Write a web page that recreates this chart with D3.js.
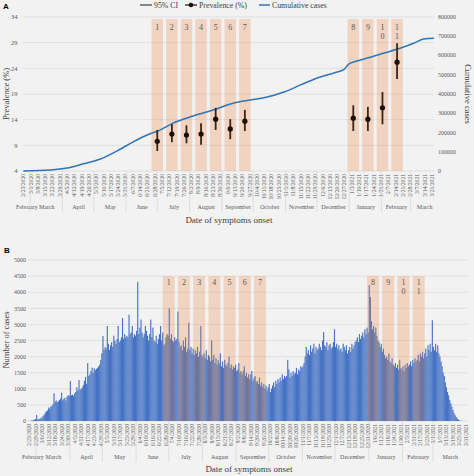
<!DOCTYPE html>
<html><head><meta charset="utf-8">
<script src="https://cdn.jsdelivr.net/npm/d3@7"></script>
<style>
html,body{margin:0;padding:0;background:#f2f2f2;}
svg{display:block;font-family:"Liberation Serif",serif;}
</style></head><body>
<svg id="c" width="474" height="476"></svg>
<script>
// ---------------- DATA ----------------
const waveLabels = ["1","2","3","4","5","6","7","8","9","10","11"];
const waveStart = ["2020-06-25","2020-07-09","2020-07-23","2020-08-06","2020-08-20","2020-09-03","2020-09-17","2020-12-30","2021-01-13","2021-01-27","2021-02-10"];
const waveEnd   = ["2020-07-06","2020-07-20","2020-08-03","2020-08-17","2020-08-31","2020-09-14","2020-09-28","2021-01-10","2021-01-24","2021-02-07","2021-02-21"];
const prevalence = [9.8, 11.2, 11.0, 11.2, 14.1, 12.2, 13.7, 14.3, 14.1, 16.3, 25.2];
const ciLow  = [7.9, 9.6, 9.4, 9.1, 12.0, 10.2, 11.8, 11.8, 11.8, 13.1, 21.9];
const ciHigh = [12.0, 13.1, 12.9, 13.3, 16.3, 14.1, 15.9, 16.8, 16.5, 19.4, 28.9];

const cumDates = ["2020-02-23","2020-03-20","2020-04-05","2020-04-20","2020-05-07","2020-05-23","2020-06-07","2020-06-23","2020-07-03","2020-07-16","2020-08-04","2020-08-23","2020-09-12","2020-09-28","2020-10-14","2020-10-30","2020-11-15","2020-12-01","2020-12-17","2020-12-27","2020-12-31","2021-01-08","2021-01-18","2021-02-03","2021-02-19","2021-03-04","2021-03-13","2021-03-23"];
const cumValues = [0,5000,15000,36000,62000,104000,150000,192000,212000,249000,285000,316000,352000,368000,383000,409000,446000,482000,508000,528000,554000,570000,585000,611000,637000,663000,684000,688000];

const prevTicks = [4,9,14,19,24,29,34];
const cumTicks = [0,100000,200000,300000,400000,500000,600000,700000,800000];
const caseTicks = [0,500,1000,1500,2000,2500,3000,3500,4000,4500,5000];
const monthNames = ["February","March","April","May","June","July","August","September","October","November","December","January","February","March"];
const monthStarts = ["2020-02-01","2020-03-01","2020-04-01","2020-05-01","2020-06-01","2020-07-01","2020-08-01","2020-09-01","2020-10-01","2020-11-01","2020-12-01","2021-01-01","2021-02-01","2021-03-01"];

// daily cases from 2020-02-23, one row per week (Sun..Sat)
const dailyCases = [
 2,5,10,15,30,40,60,
 185,40,60,70,90,120,160,
 200,260,300,330,420,380,450,
 470,520,860,600,640,580,610,
 650,700,880,640,690,720,640,
 760,800,780,1240,800,820,780,
 860,900,1050,950,1270,980,1000,
 1050,1120,1250,1370,1150,1800,1400,
 1450,1550,1660,1500,1640,1580,1620,
 1650,1700,1750,1900,2100,2640,2200,
 2300,2250,2950,2400,2200,2350,2450,
 2300,2650,2500,2400,2550,2950,2450,
 2500,2600,3200,2550,2700,2600,2650,
 2600,3300,2700,2750,2950,2600,2700,
 2650,2800,4320,2700,2900,3150,2750,
 2600,2700,2950,2800,2650,2500,2700,
 3150,2600,2900,2500,2450,2650,2400,
 2550,2700,2950,2500,2750,2350,2400,
 2600,2700,2650,3500,2550,2700,2500,
 2450,2600,2500,2550,3400,2450,2300,
 2350,2200,2500,2300,2600,2150,2250,
 3050,2200,2300,2100,2250,2050,2200,
 2100,2300,2000,2150,2950,2050,2000,
 2100,1950,2200,1900,2050,2000,1850,
 2500,1900,2050,1800,1950,1750,1900,
 1800,2100,1700,1850,1650,1900,1750,
 1700,1800,2000,1650,1750,1600,1700,
 1650,1750,1550,1600,1800,1500,1550,
 1450,1550,1700,1400,1500,1350,1450,
 1300,1450,1550,1250,1350,1400,1200,
 1250,1150,1350,1100,1200,1050,1150,
 1000,1100,950,1050,1150,900,1000,
 1100,1200,1050,1250,1150,1300,1200,
 1350,1250,1450,1300,1400,1350,1400,
 1900,1600,1350,1500,1400,1550,1450,
 1500,1650,1450,1600,1550,1700,1650,
 1700,1800,2000,2300,2100,2200,2050,
 2350,2150,2250,2400,2100,2300,2200,
 2250,2400,2300,2200,2500,2760,2350,
 2300,2450,2200,2350,2400,2250,2300,
 2450,2850,2300,2400,2250,2350,2200,
 2250,2150,2400,2300,2200,2350,2100,
 2200,2300,2150,2400,2250,2350,2450,
 2500,2600,2450,2700,2550,2650,2750,
 2600,2850,2700,2900,2750,4220,3850,
 3100,2850,2950,2750,2900,2650,2500,
 2450,2300,2400,2150,2250,2050,1950,
 2000,1900,2100,1850,1800,1950,1750,
 1700,1800,1650,1750,1600,1900,1650,
 1600,1700,1550,1750,1650,1800,1700,
 1750,1850,1700,1900,1800,1950,1850,
 1900,2050,1850,2100,2000,2150,1950,
 2100,2250,2000,2350,2200,2400,2150,
 3130,2300,2200,2400,2150,2350,2100,
 2000,1850,1700,1500,1400,1200,1050,
 900,800,650,550,450,350,250,
 180,120,80,40,20,10,5,
 0,0,0,0
];

// ---------------- DRAW ----------------
const parse = d3.timeParse("%Y-%m-%d");
const fmt = d3.timeFormat("%-m/%-d/%Y");
const svg = d3.select("#c");
const bandColor = "#ED7D31";
const gridColor = "#d9d9d9";
const labelColor = "#595959";

const startA = parse("2020-02-23"), endA = parse("2021-03-21");
const startB = parse("2020-02-23"), endB = parse("2021-03-31");
const ticksA = d3.timeDay.range(startA, d3.timeDay.offset(endA,1), 7);
const ticksB = d3.timeDay.range(startB, d3.timeDay.offset(endB,1), 6);

// ===== Panel A =====
const A = {left:23, right:434, top:17, bottom:171};
const xA = d3.scaleTime().domain([startA, endA]).range([23.3, 432]);
const yA = d3.scaleLinear().domain([4,34]).range([A.bottom, A.top]);
const yC = d3.scaleLinear().domain([0,800000]).range([A.bottom, 16.6]);

const gA = svg.append("g");
gA.append("text").attr("x",3).attr("y",9).attr("font-size",8).attr("font-weight","bold").attr("font-family","Liberation Sans, sans-serif").text("A");

gA.selectAll(".gA").data(prevTicks).join("line")
  .attr("x1",A.left).attr("x2",A.right).attr("y1",d=>yA(d)).attr("y2",d=>yA(d))
  .attr("stroke",gridColor).attr("stroke-width",0.7);

const bandTopA = 19;
gA.selectAll(".bA").data(waveLabels).join("rect")
  .attr("x",(d,i)=>xA(parse(waveStart[i])))
  .attr("width",(d,i)=>xA(parse(waveEnd[i]))-xA(parse(waveStart[i])))
  .attr("y",bandTopA).attr("height",A.bottom-bandTopA)
  .attr("fill",bandColor).attr("fill-opacity",0.25);
waveLabels.forEach((l,i)=>{
  const cx = (xA(parse(waveStart[i]))+xA(parse(waveEnd[i])))/2;
  l.split("").forEach((ch,j)=>{
    gA.append("text").attr("x",cx).attr("y",30+j*8.5).attr("text-anchor","middle")
      .attr("font-size",8).attr("fill",labelColor).text(ch);
  });
});

gA.selectAll(".tl").data(prevTicks).join("text")
  .attr("x",17.5).attr("y",d=>yA(d)+2.2).attr("text-anchor","end")
  .attr("font-size",6.5).attr("fill",labelColor).text(d=>d);
gA.selectAll(".tr").data(cumTicks).join("text")
  .attr("x",438).attr("y",d=>yC(d)+2.2).attr("text-anchor","start")
  .attr("font-size",6).attr("fill",labelColor).text(d=>d);

const cumData = cumDates.map((d,i)=>({date:parse(d), v:cumValues[i]}));
gA.append("path").datum(cumData)
  .attr("fill","none").attr("stroke","#2E75B6").attr("stroke-width",1.5)
  .attr("d", d3.line().x(d=>xA(d.date)).y(d=>yC(d.v)).curve(d3.curveMonotoneX));

waveLabels.forEach((l,i)=>{
  const cx = (xA(parse(waveStart[i]))+xA(parse(waveEnd[i])))/2;
  gA.append("line").attr("x1",cx).attr("x2",cx).attr("y1",yA(ciLow[i])).attr("y2",yA(ciHigh[i]))
    .attr("stroke","#3a2414").attr("stroke-width",1.8);
  gA.append("circle").attr("cx",cx).attr("cy",yA(prevalence[i])).attr("r",2.6).attr("fill","#1a0f08");
});

gA.selectAll(".xa").data(ticksA).join("text")
  .attr("transform",d=>`translate(${xA(d)+2},174) rotate(-90)`)
  .attr("text-anchor","end").attr("font-size",5.6).attr("fill",labelColor).text(d=>fmt(d));

function monthAxis(g, x, dStart, dEnd, yTop, yBot, yLab){
  monthNames.forEach((m,i)=>{
    let s = parse(monthStarts[i]);
    let e = i+1<monthStarts.length ? parse(monthStarts[i+1]) : d3.timeMonth.offset(s,1);
    const s2 = s < dStart ? dStart : s;
    const e2 = e > dEnd ? dEnd : e;
    g.append("text").attr("x",(x(s2)+x(e2))/2).attr("y",yLab).attr("text-anchor","middle")
      .attr("font-size",6).attr("fill",labelColor).text(m);
    if (i>0) g.append("line").attr("x1",x(s)-0.5).attr("x2",x(s)-0.5).attr("y1",yTop).attr("y2",yBot)
      .attr("stroke","#d0d0d0").attr("stroke-width",0.6);
  });
}
monthAxis(gA, xA, startA, d3.timeDay.offset(endA,6), A.bottom, 212, 209);

gA.append("text").attr("transform","translate(9,94) rotate(-90)").attr("text-anchor","middle")
  .attr("font-size",8.5).attr("fill","#404040").text("Prevalence (%)");
gA.append("text").attr("transform","translate(465,94) rotate(90)").attr("text-anchor","middle")
  .attr("font-size",8.5).attr("fill","#404040").text("Cumulative cases");
gA.append("text").attr("x",229).attr("y",223).attr("text-anchor","middle")
  .attr("font-size",9).attr("fill","#404040").text("Date of symptoms onset");

const lg = gA.append("g").attr("font-size",7.8).attr("fill","#404040");
lg.append("line").attr("x1",140).attr("x2",152).attr("y1",5).attr("y2",5).attr("stroke","#404040").attr("stroke-width",1.2);
lg.append("text").attr("x",154).attr("y",7.6).text("95% CI");
lg.append("line").attr("x1",185).attr("x2",197).attr("y1",5).attr("y2",5).attr("stroke","#1a0f08").attr("stroke-width",1.2);
lg.append("circle").attr("cx",191).attr("cy",5).attr("r",2.3).attr("fill","#1a0f08");
lg.append("text").attr("x",199).attr("y",7.6).text("Prevalence (%)");
lg.append("line").attr("x1",259).attr("x2",270).attr("y1",5).attr("y2",5).attr("stroke","#2E75B6").attr("stroke-width",1.5);
lg.append("text").attr("x",272).attr("y",7.6).text("Cumulative cases");

// ===== Panel B =====
const B = {left:28, right:467, top:260, bottom:421};
const xB = d3.scaleTime().domain([startB, endB]).range([29, 466]);
const bw = (xB(endB)-xB(startB))/402;
const yB = d3.scaleLinear().domain([0,5000]).range([B.bottom, B.top]);
const gB = svg.append("g");
gB.append("text").attr("x",4).attr("y",253).attr("font-size",8).attr("font-weight","bold").attr("font-family","Liberation Sans, sans-serif").text("B");

gB.selectAll(".gB").data(caseTicks).join("line")
  .attr("x1",B.left).attr("x2",B.right).attr("y1",d=>yB(d)).attr("y2",d=>yB(d))
  .attr("stroke",gridColor).attr("stroke-width",0.7);
gB.selectAll(".tB").data(caseTicks).join("text")
  .attr("x",26).attr("y",d=>yB(d)+2.2).attr("text-anchor","end")
  .attr("font-size",6).attr("fill",labelColor).text(d=>d);

const dailyData = dailyCases.map((v,i)=>({date:d3.timeDay.offset(startB,i), v}));
gB.selectAll(".bar").data(dailyData).join("rect")
  .attr("x",d=>xB(d.date)-bw/2).attr("width",bw+0.05)
  .attr("y",d=>yB(d.v)).attr("height",d=>B.bottom-yB(d.v))
  .attr("fill","#4472C4");

const bandTopB = yB(4500);
gB.selectAll(".bB").data(waveLabels).join("rect")
  .attr("x",(d,i)=>xB(parse(waveStart[i])))
  .attr("width",(d,i)=>xB(parse(waveEnd[i]))-xB(parse(waveStart[i])))
  .attr("y",bandTopB).attr("height",B.bottom-bandTopB)
  .attr("fill",bandColor).attr("fill-opacity",0.25);
waveLabels.forEach((l,i)=>{
  const cx = (xB(parse(waveStart[i]))+xB(parse(waveEnd[i])))/2;
  l.split("").forEach((ch,j)=>{
    gB.append("text").attr("x",cx).attr("y",285+j*9).attr("text-anchor","middle")
      .attr("font-size",8).attr("fill",labelColor).text(ch);
  });
});

gB.selectAll(".xb").data(ticksB).join("text")
  .attr("transform",d=>`translate(${xB(d)+2},424) rotate(-90)`)
  .attr("text-anchor","end").attr("font-size",5.4).attr("fill",labelColor).text(d=>fmt(d));
monthAxis(gB, xB, startB, d3.timeDay.offset(endB,1), B.bottom, 462, 459);

gB.append("text").attr("transform","translate(9,340) rotate(-90)").attr("text-anchor","middle")
  .attr("font-size",8.5).attr("fill","#404040").text("Number of cases");
gB.append("text").attr("x",249).attr("y",472).attr("text-anchor","middle")
  .attr("font-size",9).attr("fill","#404040").text("Date of symptoms onset");
</script>
</body></html>
